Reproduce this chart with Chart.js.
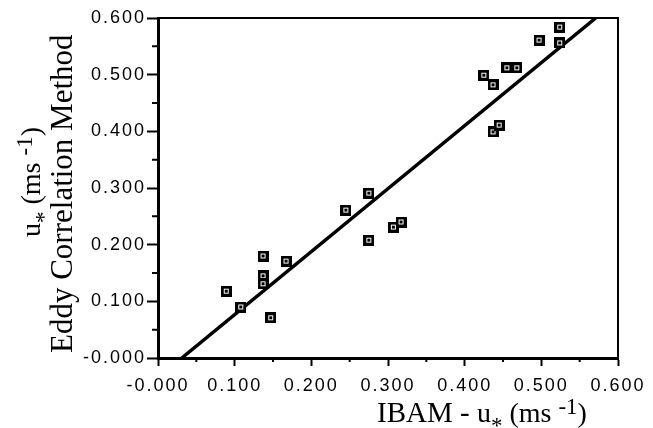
<!DOCTYPE html>
<html>
<head>
<meta charset="utf-8">
<script src="https://cdn.jsdelivr.net/npm/chart.js@4/dist/chart.umd.min.js"></script>
<style>
  html, body { margin: 0; padding: 0; background: #fff; }
  #wrap { width: 653px; height: 428px; position: relative; }
</style>
</head>
<body>
<div id="wrap"><canvas id="chart"></canvas></div>
<script>
// Data (IBAM u* vs eddy correlation u*, m/s)
const ibamX = [0.137, 0.167, 0.137, 0.137, 0.089, 0.108, 0.147, 0.275, 0.245, 0.307, 0.317,
               0.275, 0.425, 0.437, 0.455, 0.468, 0.437, 0.445, 0.524, 0.497, 0.524];
const eddyY = [0.180, 0.171, 0.145, 0.131, 0.118, 0.090, 0.071, 0.291, 0.261, 0.231, 0.240,
               0.208, 0.499, 0.482, 0.512, 0.512, 0.399, 0.411, 0.584, 0.561, 0.556];

// Fitted line end points
const fitX = [0.031, 0.571];
const fitY = [0.0, 0.6];

// Axis ticks
const majorTicks = [0, 0.1, 0.2, 0.3, 0.4, 0.5, 0.6];
const minorTicks = [0.05, 0.15, 0.25, 0.35, 0.45, 0.55];

const TICK_FONT = { family: '"Liberation Sans", Arial, sans-serif', size: 18 };
const SERIF = '"Liberation Serif", "Times New Roman", serif';

// Square-in-square marker
function makeMarker() {
    const c = document.createElement('canvas');
    c.width = 11;
    c.height = 11;
    const g = c.getContext('2d');
    g.fillStyle = '#000';
    g.fillRect(0, 0, 11, 11);
    g.fillStyle = '#fff';
    g.fillRect(3, 3, 5, 5);
    g.fillStyle = '#000';
    g.fillRect(4, 4, 3, 3);
    return c;
}

function tickLabel(v) {
    if (Math.abs(v) < 1e-9) return '-0.000';
    return v.toFixed(3);
}

// Draw a run of text pieces with sub/superscripts
function drawRich(ctx, parts, x, y) {
    let cx = x;
    parts.forEach(p => {
        ctx.font = p.size + 'px ' + SERIF;
        ctx.fillText(p.text, cx, y + p.dy);
        cx += ctx.measureText(p.text).width;
    });
}

const framePlugin = {
    id: 'frame',
    beforeDraw(chart) {
        chart.ctx.letterSpacing = '2px';
    },
    afterDraw(chart) {
        const ctx = chart.ctx;
        const a = chart.chartArea;
        const xs = chart.scales.x;
        const ys = chart.scales.y;
        ctx.save();
        ctx.letterSpacing = '0px';
        ctx.strokeStyle = '#000';

        // top and right edges
        ctx.lineWidth = 2;
        ctx.beginPath();
        ctx.moveTo(a.left, a.top);
        ctx.lineTo(a.right, a.top);
        ctx.lineTo(a.right, a.bottom);
        ctx.stroke();

        // minor ticks
        ctx.lineWidth = 2;
        ctx.beginPath();
        minorTicks.forEach(v => {
            const px = xs.getPixelForValue(v);
            ctx.moveTo(px, a.bottom);
            ctx.lineTo(px, a.bottom + 4);
            const py = ys.getPixelForValue(v);
            ctx.moveTo(a.left, py);
            ctx.lineTo(a.left - 6, py);
        });
        ctx.stroke();

        // axis titles
        ctx.fillStyle = '#000';
        ctx.textBaseline = 'alphabetic';
        ctx.textAlign = 'left';
        const unitParts = [
            { text: 'u', size: 28, dy: 0 },
            { text: '*', size: 23, dy: 11 },
            { text: ' (ms ', size: 28, dy: 0 },
            { text: '-1', size: 23, dy: -8 },
            { text: ')', size: 28, dy: 0 }
        ];
        drawRich(ctx, [{ text: 'IBAM - ', size: 29, dy: 0 }].concat(unitParts), 377, 422);

        ctx.save();
        ctx.translate(40, 237);
        ctx.rotate(-Math.PI / 2);
        drawRich(ctx, unitParts, 0, 0);
        ctx.restore();

        ctx.save();
        ctx.translate(72, 353);
        ctx.rotate(-Math.PI / 2);
        drawRich(ctx, [{ text: 'Eddy Correlation Method', size: 31, dy: 0 }], 0, 0);
        ctx.restore();

        ctx.restore();
    }
};

const ctx = document.getElementById('chart').getContext('2d');
const chart = new Chart(ctx, {
    type: 'scatter',
    data: {
        datasets: [
            {
                label: 'Observations',
                data: ibamX.map((x, i) => ({ x: x, y: eddyY[i] })),
                pointStyle: makeMarker(),
                pointRadius: 5,
                order: 0
            },
            {
                type: 'line',
                label: 'Fit',
                data: fitX.map((x, i) => ({ x: x, y: fitY[i] })),
                borderColor: '#000',
                borderWidth: 3.5,
                pointRadius: 0,
                fill: false,
                order: 1
            }
        ]
    },
    options: {
        responsive: true,
        maintainAspectRatio: false,
        animation: false,
        layout: { padding: { top: 18, right: 35, left: 0, bottom: 0 } },
        plugins: {
            legend: { display: false },
            tooltip: { enabled: false }
        },
        scales: {
            x: {
                type: 'linear',
                min: 0,
                max: 0.6,
                afterFit: (scale) => { scale.height = 70; },
                afterBuildTicks: (scale) => { scale.ticks = majorTicks.map(v => ({ value: v })); },
                ticks: {
                    callback: tickLabel,
                    font: TICK_FONT,
                    color: '#000',
                    padding: 9,
                    maxRotation: 0
                },
                grid: {
                    drawOnChartArea: false,
                    tickLength: 8,
                    tickWidth: 2,
                    tickColor: '#000'
                },
                border: { color: '#000', width: 3 }
            },
            y: {
                type: 'linear',
                min: 0,
                max: 0.6,
                afterFit: (scale) => { scale.width = 158; },
                afterBuildTicks: (scale) => { scale.ticks = majorTicks.map(v => ({ value: v })); },
                ticks: {
                    callback: tickLabel,
                    font: TICK_FONT,
                    color: '#000',
                    padding: 1
                },
                grid: {
                    drawOnChartArea: false,
                    tickLength: 11,
                    tickWidth: 2,
                    tickColor: '#000'
                },
                border: { color: '#000', width: 3 }
            }
        }
    },
    plugins: [framePlugin]
});
</script>
</body>
</html>
